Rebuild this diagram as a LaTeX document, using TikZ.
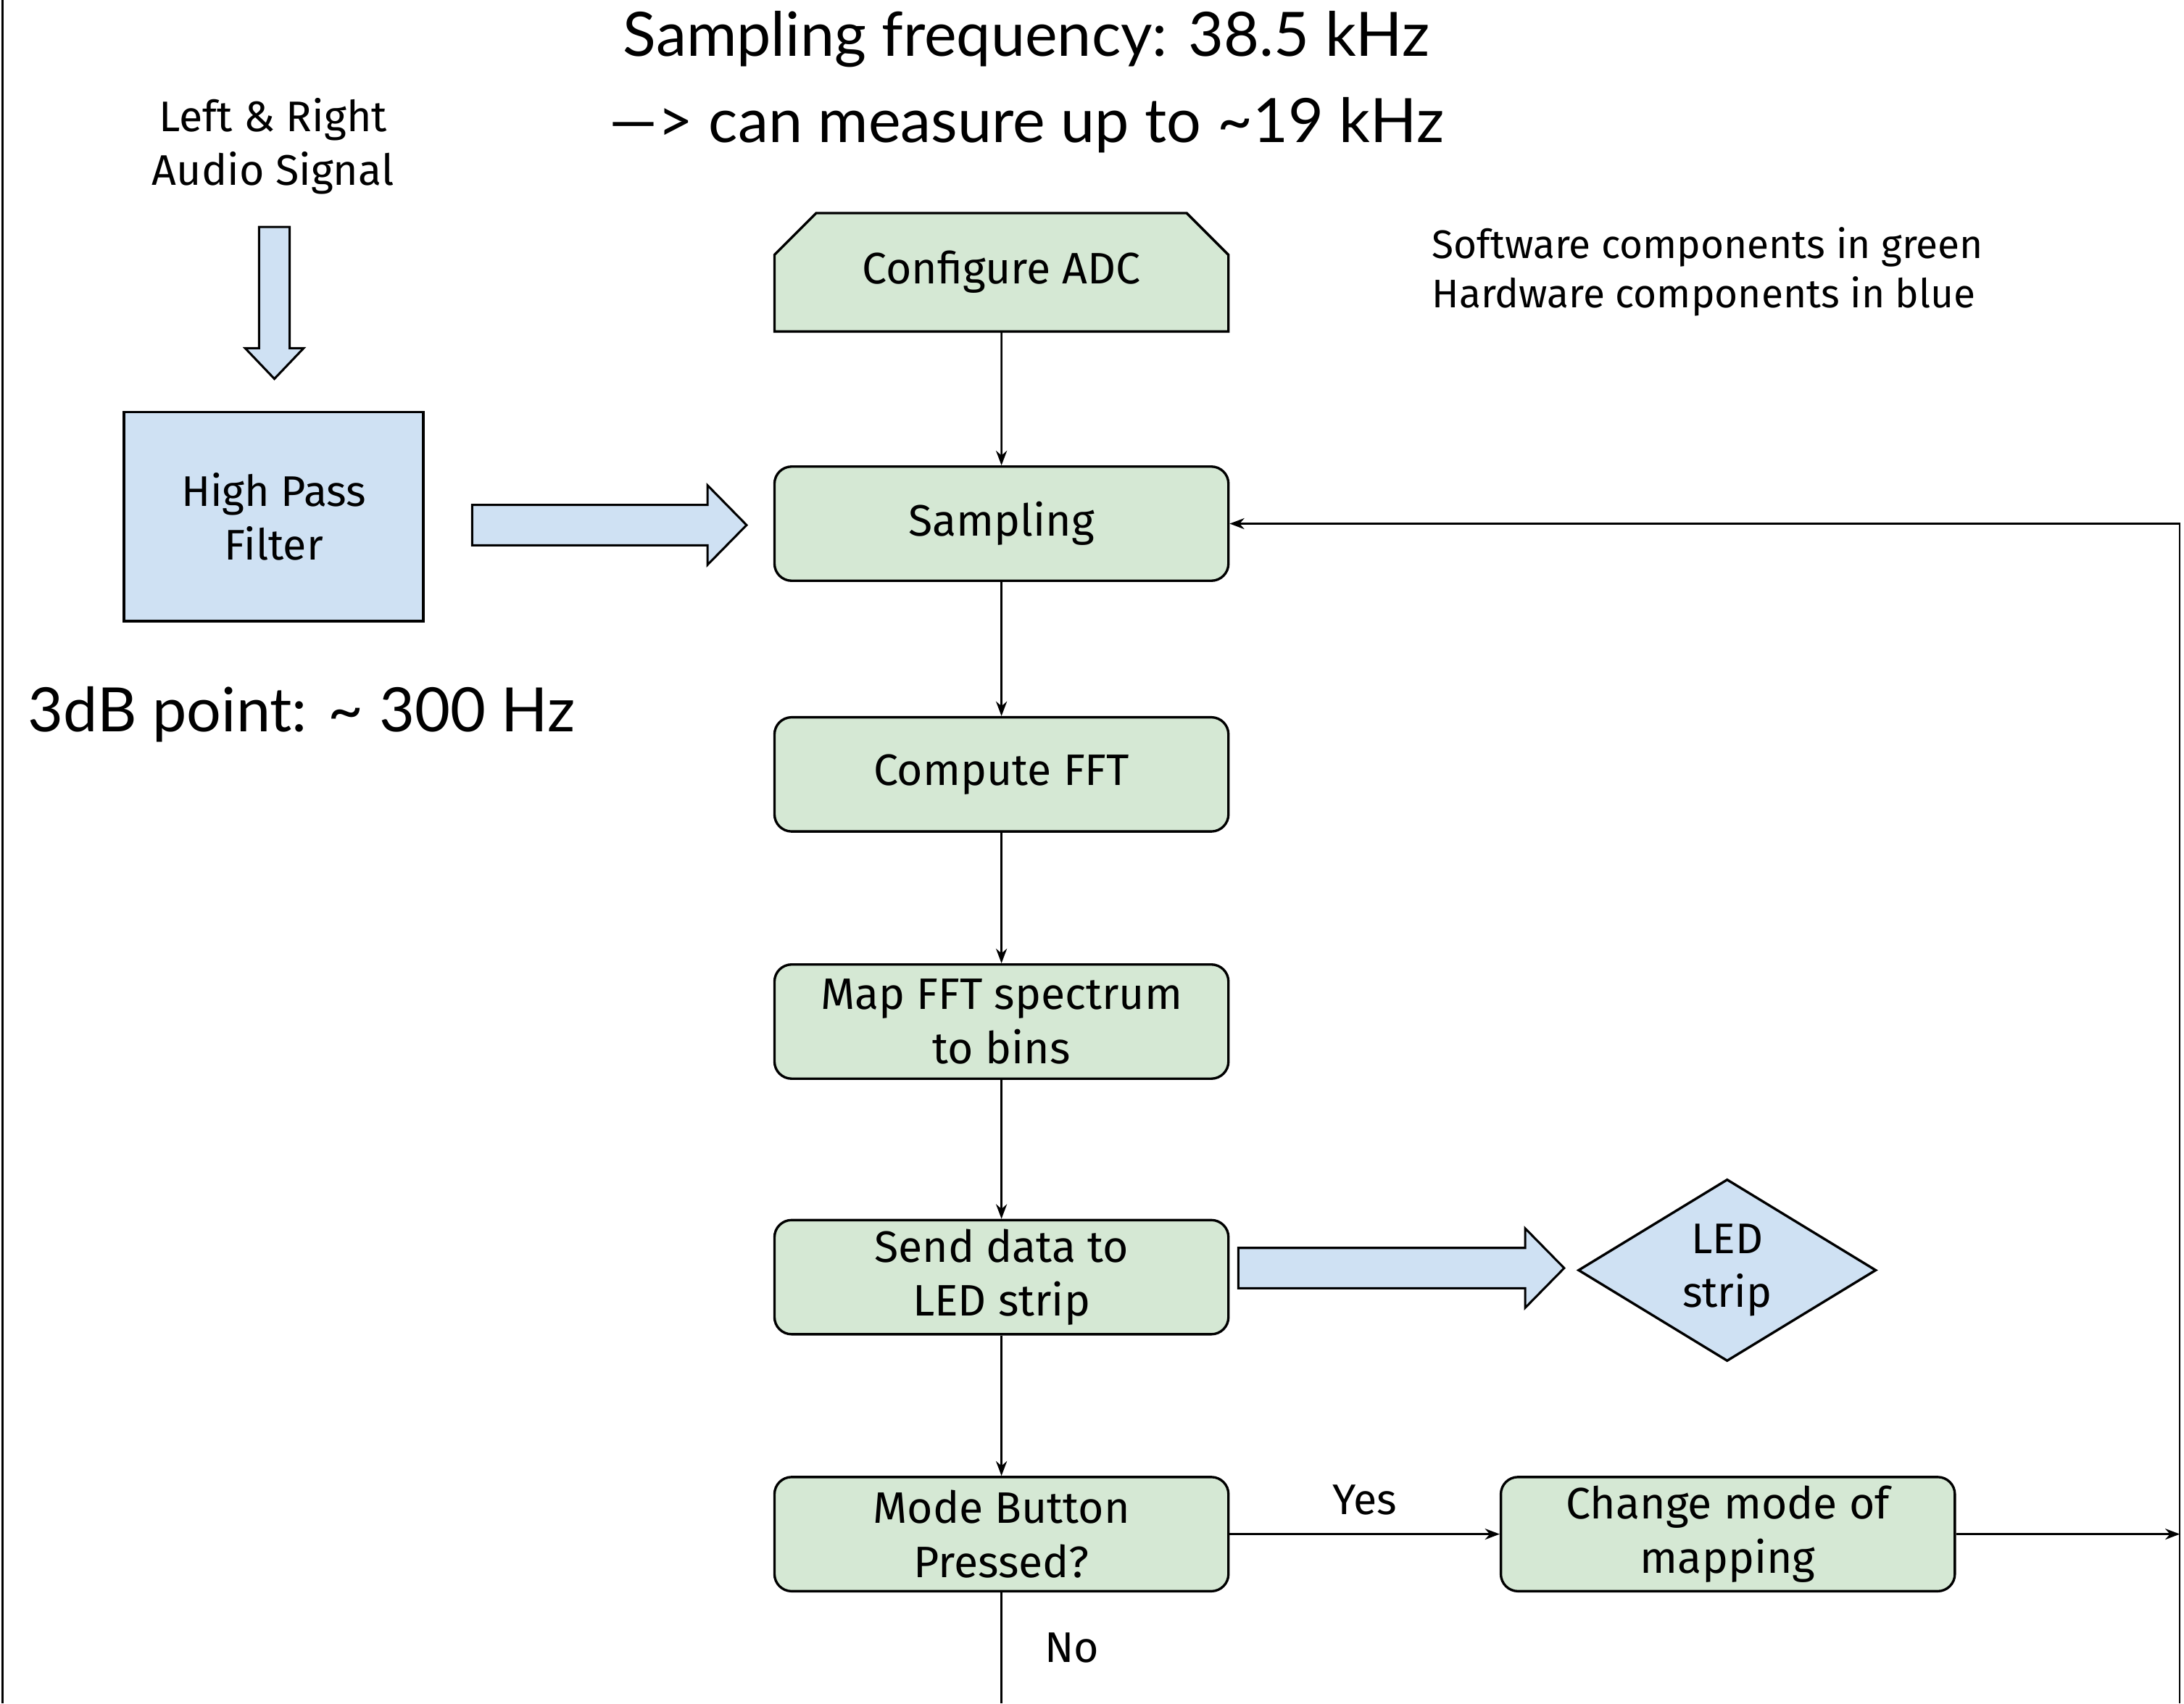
\documentclass[tikz,border=0pt]{standalone}
\usepackage{fontspec}
\setmainfont{Fira Sans}
\newfontfamily\notefont{Lato}
\usetikzlibrary{arrows.meta,shapes.geometric,shapes.misc}
\definecolor{swgreen}{RGB}{213,232,212}
\definecolor{hwblue}{RGB}{207,225,243}
% hollow block arrows, drawn from the tail centre
\newcommand\HArrow[1]{++(0,-14.5) -- ++(#1,0) -- ++(0,-14) -- ++(28,28.5) -- ++(-28,28.5) -- ++(0,-14) -- ++(-#1,0) -- cycle}
\newcommand\VArrow[1]{++(-11,0) -- ++(0,#1) -- ++(-10,0) -- ++(21,22) -- ++(21,-22) -- ++(-10,0) -- ++(0,-#1) -- cycle}
\tikzset{
  swbox/.style={draw, line width=1pt, fill=swgreen, rounded corners=7pt,
    minimum width=6.52cm, minimum height=1.64cm, align=center,
    font=\fontsize{18}{22}\selectfont},
  hwbox/.style={draw, line width=1pt, fill=hwblue, align=center,
    font=\fontsize{17.5}{22}\selectfont},
  flow/.style={-{Stealth[length=6pt,width=4.5pt]}, line width=0.7pt},
  fat/.style={draw, line width=0.9pt, fill=hwblue, line join=miter},
  note/.style={font=\notefont\fontsize{25}{30}\selectfont},
  plain/.style={font=\fontsize{17.5}{22}\selectfont, align=center}
}
\begin{document}
\begin{tikzpicture}[x=0.02cm,y=-0.02cm]
    \useasboundingbox (0,0) rectangle (1568,1223);
    \draw[line width=0.8pt] (2,0) -- (2,1223);
    % notes
    \node[note] (fs) at (737,28) {Sampling frequency: 38.5 kHz};
    \node[note] (ny) at (737,90) {—> can measure up to \textasciitilde19 kHz};
    \node[note,anchor=west] (db) at (14,513) {3dB point: \textasciitilde\ 300 Hz};
    \node[plain,align=left,anchor=west,font=\fontsize{16.3}{20}\selectfont] (key) at (1022,195)
        {Software components in green\\Hardware components in blue};
    % hardware side
    \node[plain] (audio) at (196,105) {Left \& Right\\Audio Signal};
    \draw[fat] (197,163) \VArrow{87};
    \node[hwbox, minimum width=4.3cm, minimum height=3cm] (hpf) at (196.5,371) {High Pass\\Filter};
    \draw[fat] (339,377) \HArrow{169};
    % software flow
    \node[swbox, rounded corners=0pt, chamfered rectangle, chamfered rectangle corners={north west,north east},
          chamfered rectangle xsep=0.26cm, chamfered rectangle ysep=0.34cm,
          minimum height=1.7cm] (cfg) at (719,195.5) {Configure ADC};
    \node[swbox] (smp) at (719,376) {Sampling};
    \node[swbox] (fft) at (719,556) {Compute FFT};
    \node[swbox] (map) at (719,733.5) {Map FFT spectrum\\to bins};
    \node[swbox] (send) at (719,917) {Send data to\\LED strip};
    \node[swbox] (mode) at (719,1101.5) {Mode Button\\Pressed?};
    \node[swbox] (chg) at (1240.5,1101.5) {Change mode of\\mapping};
    \draw[fat] (889,910.5) \HArrow{206};
    \node[hwbox, diamond, minimum width=4.28cm, minimum height=2.58cm, inner sep=0pt] (led) at (1240,912) {LED\\strip};
    \coordinate (loop) at (1565,1101.5);
    \coordinate (rb) at (1565,1223);
    \coordinate (nob) at (719,1223);
    \draw[flow] (cfg) -- (smp);
    \draw[flow] (smp) -- (fft);
    \draw[flow] (fft) -- (map);
    \draw[flow] (map) -- (send);
    \draw[flow] (send) -- (mode);
    \draw[flow] (mode) -- node[plain,above=4pt] (yes) {Yes} (chg);
    \draw[flow] (chg) -- (loop);
    \draw[flow] (rb) |- (smp);
    \draw[line width=0.7pt] (mode) -- (nob) node[plain,pos=0.5,right=14pt] (no) {No};
\end{tikzpicture}
\end{document}
